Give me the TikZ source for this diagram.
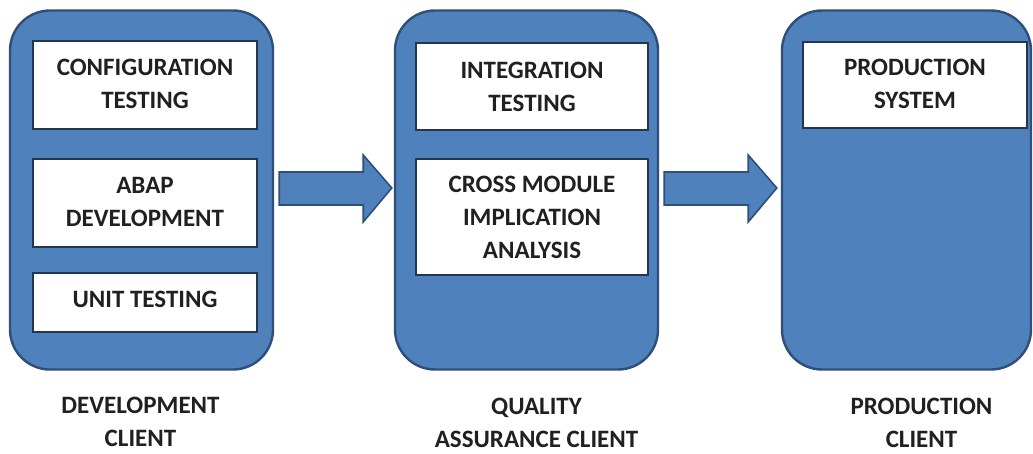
\documentclass[tikz,border=0pt]{standalone}
\usepackage{fontspec}
\setmainfont{Carlito}
\usepackage{tikz}
\usetikzlibrary{calc,positioning}
\definecolor{fillblue}{HTML}{4F81BD}
\definecolor{edgeblue}{HTML}{2F4E78}
\definecolor{boxedge}{HTML}{22364F}
\definecolor{ink}{HTML}{202020}
\tikzset{
  client/.style={draw=edgeblue, fill=fillblue, line width=2.4pt, rounded corners=40pt, inner sep=0pt},
  task/.style={draw=boxedge, fill=white, line width=1.2pt, inner sep=0pt, align=center,
    text=ink, font=\bfseries\fontsize{25}{33}\selectfont},
  caption/.style={text=ink, align=center, inner sep=0pt, font=\bfseries\fontsize{25}{33}\selectfont},
  blk/.style={draw=edgeblue, fill=fillblue, line width=1.6pt, line join=miter},
}
\begin{document}
\begin{tikzpicture}[x=1pt,y=-1pt]
  \useasboundingbox (0,0) rectangle (1033,453);
  % the three clients
  \node[client, minimum width=263pt, minimum height=359pt] (dev)  at (141.5,190) {};
  \node[client, minimum width=263pt, minimum height=359pt] (qa)   at (526.5,190) {};
  \node[client, minimum width=249pt, minimum height=359pt] (prod) at (906.5,190) {};
  % tasks inside
  \node[task, minimum width=224pt, minimum height=88pt] (conf) at (145,85)  {\raisebox{2pt}{CONFIGURATION}\\\raisebox{2pt}{TESTING}};
  \node[task, minimum width=224pt, minimum height=88pt] (abap) at (145,203) {\raisebox{3pt}{ABAP}\\\raisebox{3pt}{DEVELOPMENT}};
  \node[task, minimum width=224pt, minimum height=59pt] (unit) at (145,302.5) {\raisebox{7pt}{UNIT TESTING}};
  \node[task, minimum width=232pt, minimum height=87pt] (integ) at (532,86.5) {INTEGRATION\\TESTING};
  \node[task, minimum width=232pt, minimum height=116pt] (cross) at (532,217) {CROSS MODULE\\IMPLICATION\\ANALYSIS};
  \node[task, minimum width=224pt, minimum height=86pt] (psys) at (915,85) {\raisebox{2pt}{PRODUCTION}\\\raisebox{2pt}{SYSTEM}};
  % block arrows
  \draw[blk] ($(dev.east)+(5,-18)$) -- ++(84,0) -- ++(0,-17) -- ($(qa.west)+(-2,-2)$)
    -- ($(dev.east)+(89,32)$) -- ++(0,-17) -- ++(-84,0) -- cycle;
  \draw[blk] ($(qa.east)+(5,-18)$) -- ++(84,0) -- ++(0,-17) -- ($(prod.west)+(-4,-2)$)
    -- ($(qa.east)+(89,32)$) -- ++(0,-17) -- ++(-84,0) -- cycle;
  % captions
  \node[caption, below=26pt of dev, xshift=-1pt] (devcap) {DEVELOPMENT\\CLIENT};
  \node[caption, below=27pt of qa, xshift=10pt] (qacap) {QUALITY\\ASSURANCE CLIENT};
  \node[caption, below=27pt of prod, xshift=15pt] (prodcap) {PRODUCTION\\CLIENT};
\end{tikzpicture}
\end{document}
